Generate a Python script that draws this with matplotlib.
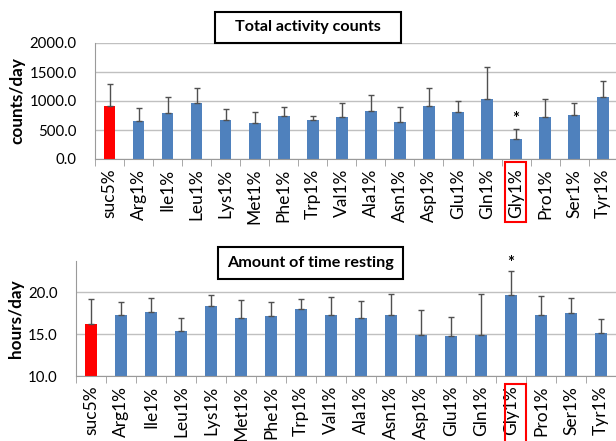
import numpy as np
import matplotlib
matplotlib.use("Agg")
import matplotlib.pyplot as plt
from matplotlib.patches import Rectangle
from matplotlib.ticker import FormatStrFormatter

labels = ["suc5%", "Arg1%", "Ile1%", "Leu1%", "Lys1%", "Met1%", "Phe1%", "Trp1%", "Val1%",
          "Ala1%", "Asn1%", "Asp1%", "Glu1%", "Gln1%", "Gly1%", "Pro1%", "Ser1%", "Tyr1%"]

# total activity counts (counts/day), mean and upper error
activity = [908, 662, 800, 968, 672, 617, 749, 668, 719, 828, 633, 914, 810, 1029, 340, 729, 753, 1069]
activity_err = [385, 212, 265, 256, 190, 199, 148, 68, 241, 281, 269, 310, 185, 552, 172, 300, 218, 281]

# amount of time resting (hours/day), mean and upper error
resting = [16.2, 17.3, 17.7, 15.4, 18.4, 16.9, 17.2, 18.0, 17.3,
           16.9, 17.3, 14.85, 14.8, 14.9, 19.75, 17.3, 17.5, 15.2]
resting_err = [3.0, 1.6, 1.6, 1.6, 1.3, 2.2, 1.7, 1.2, 2.1,
               2.1, 2.5, 3.05, 2.3, 4.9, 2.85, 2.3, 1.8, 1.6]

marked = "Gly1%"

W, H = 616, 441
fig = plt.figure(figsize=(W / 100, H / 100), dpi=100)
plt.rcParams['font.family'] = ['Lato', 'DejaVu Sans']

blue = "#4F81BD"
red = "#FF0000"
colors = [red if i == 0 else blue for i in range(len(labels))]


def px_axes(x0, y0, x1, y1):
    return fig.add_axes([x0 / W, 1 - y1 / H, (x1 - x0) / W, (y1 - y0) / H])


def style(ax, ylabel):
    for s in ["top", "right"]:
        ax.spines[s].set_visible(False)
    ax.spines["left"].set_color("#9a9a9a")
    ax.spines["bottom"].set_color("#9a9a9a")
    ax.yaxis.grid(True, color="#c0c0c0", linewidth=1)
    ax.set_axisbelow(True)
    ax.yaxis.set_major_formatter(FormatStrFormatter("%.1f"))
    ax.tick_params(axis="y", length=0, labelsize=10.8, pad=13)
    ax.tick_params(axis="x", length=0, labelsize=12.5, rotation=90, pad=7)
    ax.set_ylabel(ylabel, fontsize=12.3, fontweight="bold", labelpad=3)
    n = len(labels)
    ax.set_xlim(-0.5, n - 0.5)
    ax.set_xticks(np.arange(n))
    ax.set_xticklabels(labels)
    ax.set_xticks(np.arange(n + 1) - 0.5, minor=True)
    ax.tick_params(axis="x", which="minor", length=5, color="#9a9a9a", direction="out")


x = np.arange(len(labels))
errkw = dict(ecolor="#505050", elinewidth=1, capsize=2, capthick=1)

# top chart
ax1 = px_axes(95, 43, 95 + 18 * 29.04, 159)
ax1.bar(x, activity, width=0.4, color=colors,
        yerr=[np.zeros(len(x)), activity_err], error_kw=errkw, zorder=2)
ax1.set_ylim(0, 2000)
ax1.set_yticks([0, 500, 1000, 1500, 2000])
style(ax1, "counts/day")
gi = labels.index(marked)
ax1.text(gi, activity[gi] + activity_err[gi] + 170, "*", ha="center", va="center", fontsize=12, fontweight="bold")

# bottom chart
ax2 = px_axes(76, 260.7, 616, 376)
ax2.bar(x, resting, width=0.4, color=colors,
        yerr=[np.zeros(len(x)), resting_err], error_kw=errkw, zorder=2)
ax2.set_ylim(10, 23.8)
ax2.set_yticks([10, 15, 20])
style(ax2, "hours/day")
ax2.text(gi, resting[gi] + resting_err[gi] + 0.9, "*", ha="center", va="center", fontsize=12, fontweight="bold")


def title_box(x0, y0, x1, y1, text):
    fig.patches.append(Rectangle((x0 / W, 1 - y1 / H), (x1 - x0) / W, (y1 - y0) / H,
                                 transform=fig.transFigure, facecolor="white",
                                 edgecolor="black", linewidth=1.5, zorder=5))
    fig.text((x0 + x1) / 2 / W, 1 - (y0 + y1) / 2 / H, text, ha="center", va="center",
             fontsize=11.6, fontweight="bold", zorder=6)


title_box(215, 12.3, 400.7, 42.7, "Total activity counts")
title_box(218.3, 246.7, 403.3, 279, "Amount of time resting")

# red boxes around the marked tick label
for y0, y1 in [(162.3, 222.3), (384.3, 446)]:
    fig.patches.append(Rectangle((505 / W, 1 - y1 / H), 20.7 / W, (y1 - y0) / H,
                                 transform=fig.transFigure, facecolor="none",
                                 edgecolor=red, linewidth=1.5, zorder=5))

fig.savefig("out.png", dpi=100)
